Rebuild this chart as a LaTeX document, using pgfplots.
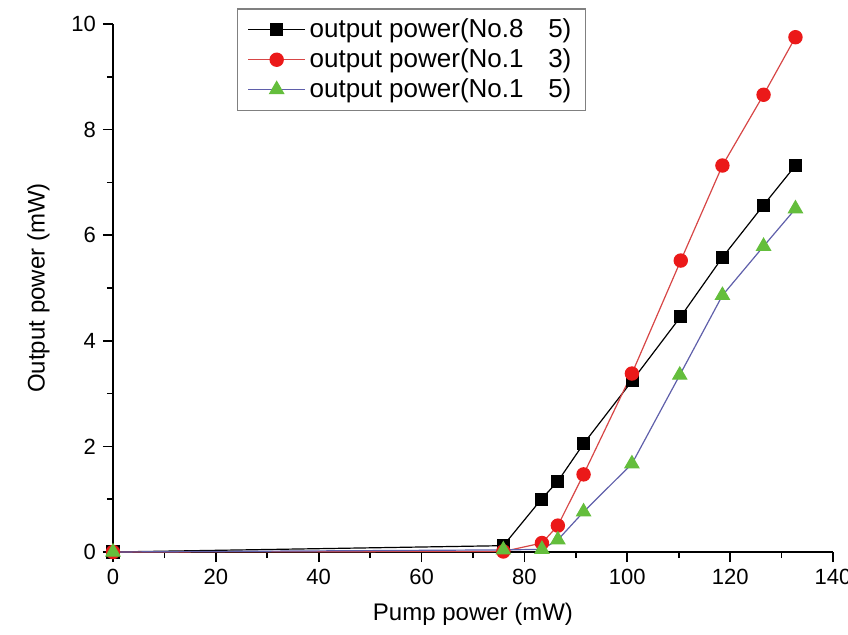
\documentclass[border=0pt]{standalone}
\usepackage{pgfplots}
\pgfplotsset{compat=1.18}
\usepackage{fontspec}
\setmainfont{Liberation Sans}
\definecolor{redline}{RGB}{215,70,70}
\definecolor{redmark}{RGB}{235,25,25}
\definecolor{greenmark}{RGB}{100,190,60}
\definecolor{blueline}{RGB}{95,95,170}
\begin{document}
\begin{tikzpicture}
\begin{axis}[
  at={(0,0)}, anchor=south west,
  scale only axis,
  width=360pt, height=264pt,
  xmin=0, xmax=140, ymin=0, ymax=10,
  axis lines=left,
  axis line style={-, line width=0.8pt},
  xtick={0,20,...,140}, ytick={0,2,...,10},
  minor xtick={10,30,...,130}, minor ytick={1,3,...,9},
  tick align=outside,
  major tick length=5pt, minor tick length=3pt,
  every tick/.style={black, line width=0.8pt},
  tick label style={font=\fontsize{11}{13}\selectfont},
  /pgf/number format/assume math mode=true,
  xlabel={Pump power (mW)}, ylabel={Output power (mW)},
  label style={font=\fontsize{12}{14}\selectfont},
  xlabel style={yshift=-2.5pt},
  ylabel style={yshift=4pt},
  clip=false,
  legend cell align=left,
  legend image code/.code={\draw[mark repeat=2,mark phase=2] plot coordinates {(0cm,0cm) (0.5cm,0cm) (1.0cm,0cm)};},
  legend style={at={(rel axis cs:0.172,1.03)}, anchor=north west,
    draw=gray, line width=0.8pt, font=\fontsize{13}{15}\selectfont,
    row sep=0pt, inner xsep=5pt, inner ysep=3pt},
]
\addplot[black, line width=0.6pt, mark=square*, mark size=3pt, mark options={fill=black}]
coordinates {(0,0) (75.9,0.12) (83.3,1.0) (86.5,1.34) (91.5,2.05) (101,3.25) (110.4,4.46) (118.5,5.58) (126.5,6.57) (132.7,7.32)};
\addlegendentry{output power(No.8\hspace{0.95em}5)}
\addplot[redline, line width=0.6pt, mark=*, mark size=3.3pt, mark options={fill=redmark, draw=redmark}]
coordinates {(0,0) (75.9,0.01) (83.4,0.17) (86.5,0.5) (91.5,1.47) (100.9,3.38) (110.4,5.52) (118.5,7.32) (126.5,8.66) (132.7,9.75)};
\addlegendentry{output power(No.1\hspace{0.95em}3)}
\addplot[blueline, line width=0.6pt, mark=triangle*, mark size=4pt, mark options={fill=greenmark, draw=greenmark}]
coordinates {(0,0) (75.9,0.04) (83.4,0.05) (86.5,0.23) (91.5,0.76) (100.9,1.67) (110.2,3.35) (118.5,4.86) (126.5,5.79) (132.7,6.5)};
\addlegendentry{output power(No.1\hspace{0.95em}5)}
\end{axis}
\pgfresetboundingbox
\path (-56.5pt,-41pt) rectangle (367.5pt,276pt);
\end{tikzpicture}
\end{document}
